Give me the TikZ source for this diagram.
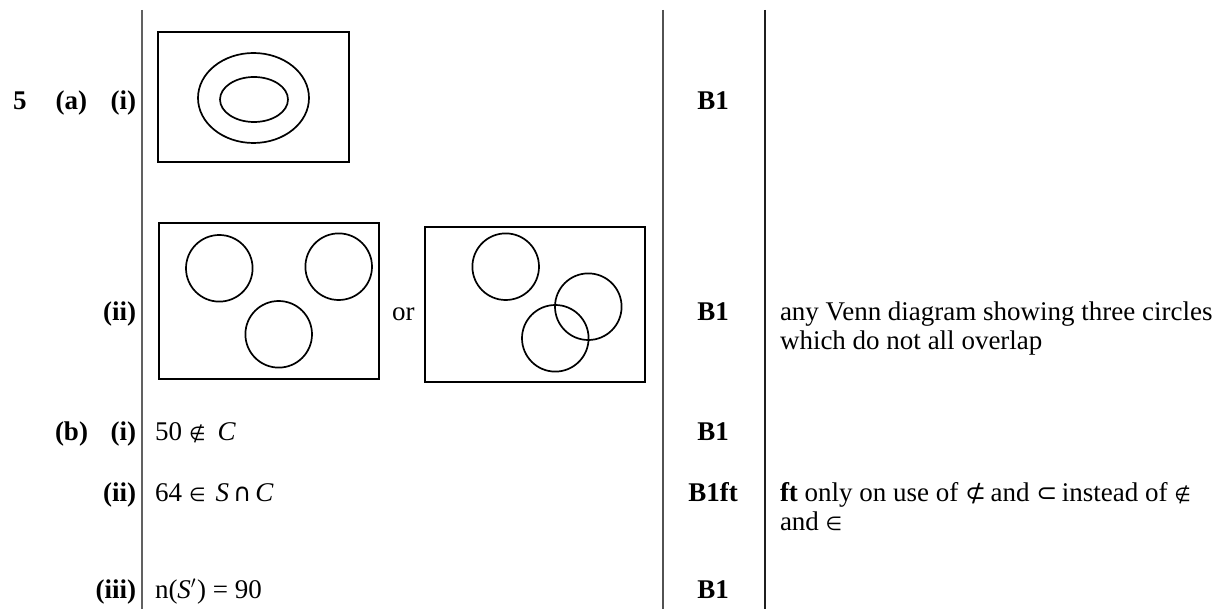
\documentclass[tikz,border=0pt]{standalone}
\usepackage{fontspec}
\setmainfont{Liberation Serif}
\newfontfamily\opfont{DejaVu Sans}
\begin{document}
\begin{tikzpicture}[x=1pt,y=-1pt,
  txt/.style={font=\fontsize{27}{30}\selectfont, inner sep=0pt, outer sep=0pt},
  partlbl/.style={txt, font=\fontsize{27}{30}\selectfont\bfseries, anchor=base east},
  answer/.style={txt, anchor=base west},
  marklbl/.style={txt, font=\fontsize{27}{30}\selectfont\bfseries, anchor=base},
  remark/.style={txt, anchor=base west},
  colrule/.style={line width=1.6pt},
  venn/.style={line width=1.7pt, draw=black}
]
% set-theory operators as single glyphs
\newcommand{\op}[1]{{\opfont\fontsize{19}{19}\selectfont #1}}
\newcommand{\opbig}[1]{{\opfont\fontsize{25}{25}\selectfont #1}}
\useasboundingbox (0,0) rectangle (1219,609);

% column rules
\draw[colrule, draw=black!62] (142,10) -- (142,609);
\draw[colrule, draw=black!68] (663,10) -- (663,609);
\draw[colrule, draw=black!88] (765,10) -- (765,609);

% question and part labels
\node[txt, font=\fontsize{27}{30}\selectfont\bfseries, anchor=base west] (q5) at (13,110) {5};
\node[partlbl] (pa) at (87,110) {(a)};
\node[partlbl] (pai) at (136,110) {(i)};
\node[partlbl] (paii) at (136,321) {(ii)};
\node[partlbl] (pb) at (88,441) {(b)};
\node[partlbl] (pbi) at (136,441) {(i)};
\node[partlbl] (pbii) at (136,501) {(ii)};
\node[partlbl] (pbiii) at (136,598) {(iii)};

% (a)(i): one set inside another
\draw[venn] (158,32) rectangle (349,162);
\draw[venn] (253.5,98) ellipse [x radius=55.5, y radius=45];
\draw[venn] (254,99.5) ellipse [x radius=34, y radius=22.5];

% (a)(ii): three circles, first version
\draw[venn] (159,223) rectangle (379,379);
\draw[venn] (219.3,268.3) circle [radius=33.3];
\draw[venn] (338.7,266.7) circle [radius=33.3];
\draw[venn] (278.7,334.3) circle [radius=33.3];

\node[answer] (alt) at (392,321) {or};

% (a)(ii): three circles, second version
\draw[venn] (425,227) rectangle (645,382);
\draw[venn] (505.7,266.7) circle [radius=33.3];
\draw[venn] (588.3,306.7) circle [radius=33.3];
\draw[venn] (555.3,338.3) circle [radius=33.3];

% (b) answers
\node[answer] (ansbi) at (155,441) {50\hspace{7pt}\op{∉}\hspace{12pt}\textit{C}};
\node[answer] (ansbii) at (155,501) {64\hspace{7pt}\op{∈}\hspace{10pt}\textit{S}\hspace{4pt}\opbig{∩}\hspace{4pt}\textit{C}};
\node[answer] (ansbiii) at (155,598) {n(\textit{S}$'$\kern1pt) = 90};

% marks
\node[marklbl] (m1) at (713,110) {B1};
\node[marklbl] (m2) at (713,321) {B1};
\node[marklbl] (m3) at (713,441) {B1};
\node[marklbl] (m4) at (713,501) {B1ft};
\node[marklbl] (m5) at (713,598) {B1};

% guidance notes
\node[remark] (r1a) at (780,321) {any Venn diagram showing three circles};
\node[remark] (r1b) at (780,350) {which do not all overlap};
\node[remark] (r2a) at (780,501) {\textbf{ft} only on use of \opbig{⊄}\,and \opbig{⊂}\,instead of \op{∉}};
\node[remark] (r2b) at (780,530) {and \op{∈}};
\end{tikzpicture}
\end{document}
